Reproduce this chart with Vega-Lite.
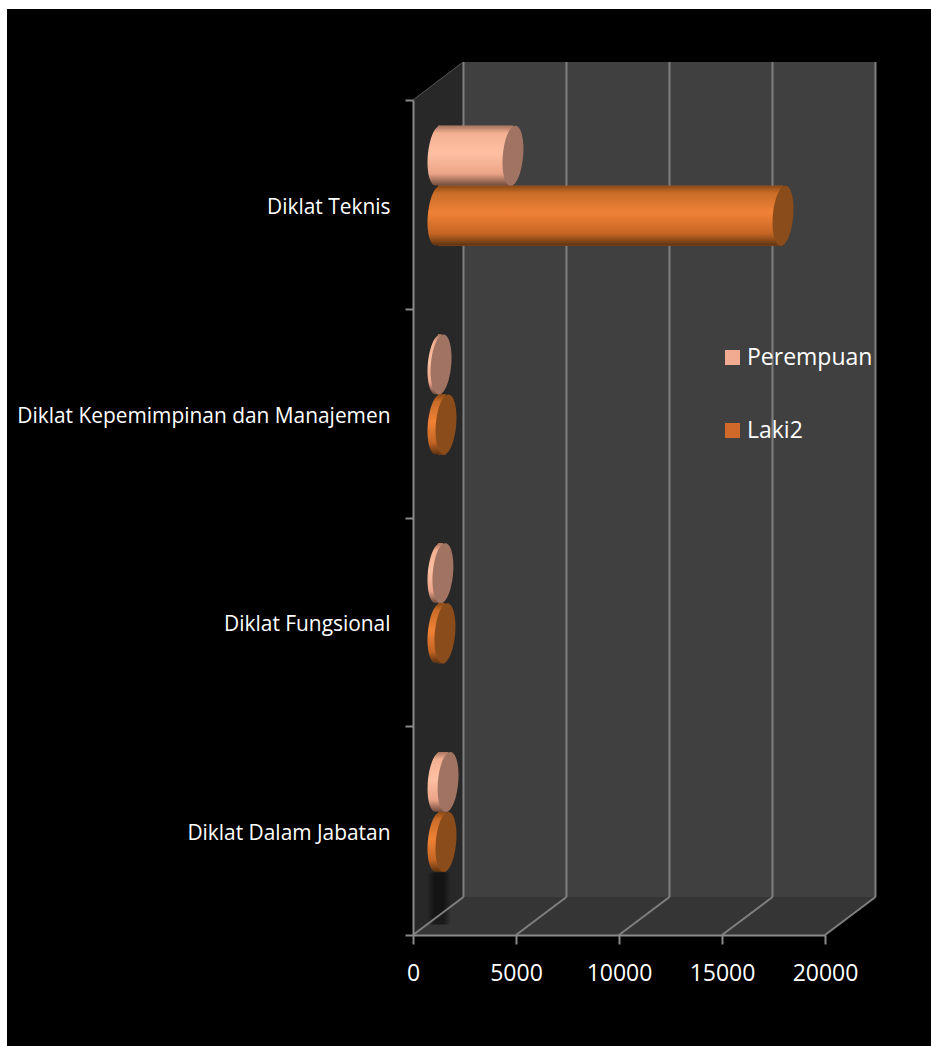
{
"$schema":"https://vega.github.io/schema/vega-lite/v6.json",
"width":412,"height":835,"autosize":"none",
"padding":{"left":413,"top":100,"right":106,"bottom":111},
"background":"white",
"config":{"font":"Open Sans","view":{"stroke":null},"legend":{"symbolType":"square"}},
"datasets":{
"bars":[
{"category":"Diklat Teknis","series":"Perempuan","value":3640},
{"category":"Diklat Teknis","series":"Laki2","value":16750},
{"category":"Diklat Kepemimpinan dan Manajemen","series":"Perempuan","value":150},
{"category":"Diklat Kepemimpinan dan Manajemen","series":"Laki2","value":390},
{"category":"Diklat Fungsional","series":"Perempuan","value":240},
{"category":"Diklat Fungsional","series":"Laki2","value":340},
{"category":"Diklat Dalam Jabatan","series":"Perempuan","value":490},
{"category":"Diklat Dalam Jabatan","series":"Laki2","value":390}
],
"side":[{"x":0,"y":0,"y2":4},{"x":2427,"y":0.182,"y2":4.182}],
"floor":[{"y":0,"x":0,"x2":20000},{"y":0.182,"x":2427,"x2":22427}],
"lines":[
{"x":2450,"x2":2450,"y":0.182,"y2":4.182},
{"x":7450,"x2":7450,"y":0.182,"y2":4.182},
{"x":12450,"x2":12450,"y":0.182,"y2":4.182},
{"x":17450,"x2":17450,"y":0.182,"y2":4.182},
{"x":22450,"x2":22450,"y":0.182,"y2":4.182},
{"x":0,"x2":2450,"y":0,"y2":0.182},
{"x":5000,"x2":7450,"y":0,"y2":0.182},
{"x":10000,"x2":12450,"y":0,"y2":0.182},
{"x":15000,"x2":17450,"y":0,"y2":0.182},
{"x":20000,"x2":22450,"y":0,"y2":0.182}
]
},
"resolve":{"scale":{"y":"independent"},"axis":{"x":"independent"}},
"data":{"name":"bars"},
"layer":[
{"data":{"values":[{"x":-19709,"x2":25200,"y":-0.54,"y2":4.436}]},
 "mark":{"type":"rect","fill":"black"},
 "encoding":{
  "x":{"field":"x","type":"quantitative","scale":{"domain":[0,20000],"nice":false,"zero":false},"axis":null},
  "x2":{"field":"x2"},
  "y":{"field":"y","type":"quantitative","scale":{"domain":[0,4],"nice":false,"zero":false},"axis":null},
  "y2":{"field":"y2"}}},
{"data":{"values":[{"x":2427,"x2":22427,"y":0.182,"y2":4.182}]},
 "mark":{"type":"rect","fill":"#404040"},
 "encoding":{"x":{"field":"x","type":"quantitative","axis":null},"x2":{"field":"x2"},"y":{"field":"y","type":"quantitative","scale":{"domain":[0,4],"nice":false,"zero":false},"axis":null},"y2":{"field":"y2"}}},
{"data":{"name":"side"},
 "mark":{"type":"area","fill":"#282828"},
 "encoding":{"x":{"field":"x","type":"quantitative","axis":null},"y":{"field":"y","type":"quantitative","scale":{"domain":[0,4],"nice":false,"zero":false},"axis":null},"y2":{"field":"y2"}}},
{"data":{"name":"floor"},
 "mark":{"type":"area","orient":"horizontal","fill":"#353535"},
 "encoding":{"y":{"field":"y","type":"quantitative","scale":{"domain":[0,4],"nice":false,"zero":false},"axis":null},"x":{"field":"x","type":"quantitative","axis":null},"x2":{"field":"x2"}}},
{"data":{"values":[{"x":680,"x2":1850,"y":0.05,"y2":0.30}]},
 "mark":{"type":"rect","fill":{"gradient":"linear","x1":0,"y1":0,"x2":1,"y2":0,"stops":[{"offset":0,"color":"rgba(0,0,0,0)"},{"offset":0.3,"color":"rgba(0,0,0,0.5)"},{"offset":0.7,"color":"rgba(0,0,0,0.5)"},{"offset":1,"color":"rgba(0,0,0,0)"}]}},
 "encoding":{"x":{"field":"x","type":"quantitative","axis":null},"x2":{"field":"x2"},"y":{"field":"y","type":"quantitative","scale":{"domain":[0,4],"nice":false,"zero":false},"axis":null},"y2":{"field":"y2"}}},
{"data":{"name":"lines"},
 "mark":{"type":"rule","color":"#7f7f7f","strokeWidth":2},
 "encoding":{"x":{"field":"x","type":"quantitative","axis":null},
  "x2":{"field":"x2"},"y":{"field":"y","type":"quantitative","scale":{"domain":[0,4],"nice":false,"zero":false},"axis":null},"y2":{"field":"y2"}}},
{"data":{"values":[{"x":0,"x2":2427,"y":4,"y2":4.182}]},
 "mark":{"type":"rule","color":"#555555","strokeWidth":1},
 "encoding":{"x":{"field":"x","type":"quantitative","axis":null},"x2":{"field":"x2"},"y":{"field":"y","type":"quantitative","scale":{"domain":[0,4],"nice":false,"zero":false},"axis":null},"y2":{"field":"y2"}}},
{"mark":{"type":"bar","xOffset":25,"x2Offset":25},
 "encoding":{
  "y":{"field":"category","type":"nominal","sort":["Diklat Teknis","Diklat Kepemimpinan dan Manajemen","Diklat Fungsional","Diklat Dalam Jabatan"],"scale":{"paddingInner":0,"paddingOuter":0},
   "axis":{"title":null,"orient":"left","zindex":1,"tickBand":"extent","domain":true,"domainColor":"#8a8a8a","domainWidth":2,"tickColor":"#8a8a8a","tickWidth":2,"tickSize":8,"labelColor":"white","labelFontSize":20.9,"labelPadding":15,"labelLimit":600,"labelOffset":3,"grid":false}},
  "yOffset":{"field":"series","type":"nominal","scale":{"domain":["Perempuan","Laki2"],"paddingInner":0,"paddingOuter":0.74,"align":0.29}},
  "x":{"field":"value","type":"quantitative","stack":null,
   "axis":{"orient":"bottom","zindex":1,"values":[0,5000,10000,15000,20000],"format":"d","title":null,"grid":false,"domain":true,"domainColor":"#8a8a8a","domainWidth":2,"tickColor":"#8a8a8a","tickWidth":2,"tickSize":9,"labelColor":"white","labelFontSize":23,"labelPadding":18,"labelFlush":false,"labelOverlap":false}},"x2":{"datum":0},
  "color":{"field":"series","type":"nominal","scale":{"domain":["Perempuan","Laki2"],"range":["#F0AB91","#D0692A"]},
    "legend":{"orient":"none","legendX":308,"legendY":246,"title":null,"labelColor":"white","labelFontSize":23,"symbolSize":225,"symbolType":"square","symbolStrokeWidth":0,"rowPadding":49,"labelOffset":3}}}},
{"transform":[{"filter":"datum.series==='Perempuan'"}],
 "mark":{"type":"point","filled":true,"opacity":1,"size":14400,"xOffset":25,"shape":"M 0.044,-0.498 A 0.167 0.5 5 1 1 -0.044,0.498 A 0.167 0.5 5 1 1 0.044,-0.498 Z",
  "fill":{"gradient":"linear","x1":0,"y1":0,"x2":0,"y2":1,"stops":[{"offset":0,"color":"#A8735E"},{"offset":0.12,"color":"#F2B090"},{"offset":0.45,"color":"#FFC0A2"},{"offset":0.8,"color":"#EBA488"},{"offset":1,"color":"#6E4A3C"}]}},
 "encoding":{"x":{"datum":0,"type":"quantitative","axis":null},
  "y":{"field":"category","type":"nominal","sort":["Diklat Teknis","Diklat Kepemimpinan dan Manajemen","Diklat Fungsional","Diklat Dalam Jabatan"],"scale":{"paddingInner":0,"paddingOuter":0},"axis":null},
  "yOffset":{"field":"series","type":"nominal","scale":{"domain":["Perempuan","Laki2"],"paddingInner":0,"paddingOuter":0.74,"align":0.29}}}},
{"transform":[{"filter":"datum.series==='Laki2'"}],
 "mark":{"type":"point","filled":true,"opacity":1,"size":14400,"xOffset":25,"shape":"M 0.044,-0.498 A 0.167 0.5 5 1 1 -0.044,0.498 A 0.167 0.5 5 1 1 0.044,-0.498 Z",
  "fill":{"gradient":"linear","x1":0,"y1":0,"x2":0,"y2":1,"stops":[{"offset":0,"color":"#8A4A15"},{"offset":0.12,"color":"#C96C28"},{"offset":0.45,"color":"#F08236"},{"offset":0.8,"color":"#C46524"},{"offset":1,"color":"#5C3210"}]}},
 "encoding":{"x":{"datum":0,"type":"quantitative","axis":null},
  "y":{"field":"category","type":"nominal","sort":["Diklat Teknis","Diklat Kepemimpinan dan Manajemen","Diklat Fungsional","Diklat Dalam Jabatan"],"scale":{"paddingInner":0,"paddingOuter":0},"axis":null},
  "yOffset":{"field":"series","type":"nominal","scale":{"domain":["Perempuan","Laki2"],"paddingInner":0,"paddingOuter":0.74,"align":0.29}}}},
{"transform":[{"filter":"datum.series==='Perempuan'"}],
 "mark":{"type":"bar","xOffset":25,"x2Offset":25,
  "fill":{"gradient":"linear","x1":0,"y1":0,"x2":0,"y2":1,"stops":[{"offset":0,"color":"#A8735E"},{"offset":0.12,"color":"#F2B090"},{"offset":0.45,"color":"#FFC0A2"},{"offset":0.8,"color":"#EBA488"},{"offset":1,"color":"#6E4A3C"}]}},
 "encoding":{"x":{"field":"value","type":"quantitative","stack":null,"axis":null},"x2":{"datum":0},
  "y":{"field":"category","type":"nominal","sort":["Diklat Teknis","Diklat Kepemimpinan dan Manajemen","Diklat Fungsional","Diklat Dalam Jabatan"],"scale":{"paddingInner":0,"paddingOuter":0},"axis":null},
  "yOffset":{"field":"series","type":"nominal","scale":{"domain":["Perempuan","Laki2"],"paddingInner":0,"paddingOuter":0.74,"align":0.29}}}},
{"transform":[{"filter":"datum.series==='Laki2'"}],
 "mark":{"type":"bar","xOffset":25,"x2Offset":25,
  "fill":{"gradient":"linear","x1":0,"y1":0,"x2":0,"y2":1,"stops":[{"offset":0,"color":"#8A4A15"},{"offset":0.12,"color":"#C96C28"},{"offset":0.45,"color":"#F08236"},{"offset":0.8,"color":"#C46524"},{"offset":1,"color":"#5C3210"}]}},
 "encoding":{"x":{"field":"value","type":"quantitative","stack":null,"axis":null},"x2":{"datum":0},
  "y":{"field":"category","type":"nominal","sort":["Diklat Teknis","Diklat Kepemimpinan dan Manajemen","Diklat Fungsional","Diklat Dalam Jabatan"],"scale":{"paddingInner":0,"paddingOuter":0},"axis":null},
  "yOffset":{"field":"series","type":"nominal","scale":{"domain":["Perempuan","Laki2"],"paddingInner":0,"paddingOuter":0.74,"align":0.29}}}},
{"transform":[{"filter":"datum.series==='Perempuan'"}],
 "mark":{"type":"point","filled":true,"opacity":1,"size":14400,"xOffset":25,"fill":"#A07362","shape":"M 0.044,-0.498 A 0.167 0.5 5 1 1 -0.044,0.498 A 0.167 0.5 5 1 1 0.044,-0.498 Z"},
 "encoding":{"x":{"field":"value","type":"quantitative","axis":null},
  "y":{"field":"category","type":"nominal","sort":["Diklat Teknis","Diklat Kepemimpinan dan Manajemen","Diklat Fungsional","Diklat Dalam Jabatan"],"scale":{"paddingInner":0,"paddingOuter":0},"axis":null},
  "yOffset":{"field":"series","type":"nominal","scale":{"domain":["Perempuan","Laki2"],"paddingInner":0,"paddingOuter":0.74,"align":0.29}}}},
{"transform":[{"filter":"datum.series==='Laki2'"}],
 "mark":{"type":"point","filled":true,"opacity":1,"size":14400,"xOffset":25,"fill":"#8A4C1A","shape":"M 0.044,-0.498 A 0.167 0.5 5 1 1 -0.044,0.498 A 0.167 0.5 5 1 1 0.044,-0.498 Z"},
 "encoding":{"x":{"field":"value","type":"quantitative","axis":null},
  "y":{"field":"category","type":"nominal","sort":["Diklat Teknis","Diklat Kepemimpinan dan Manajemen","Diklat Fungsional","Diklat Dalam Jabatan"],"scale":{"paddingInner":0,"paddingOuter":0},"axis":null},
  "yOffset":{"field":"series","type":"nominal","scale":{"domain":["Perempuan","Laki2"],"paddingInner":0,"paddingOuter":0.74,"align":0.29}}}}
]
}
